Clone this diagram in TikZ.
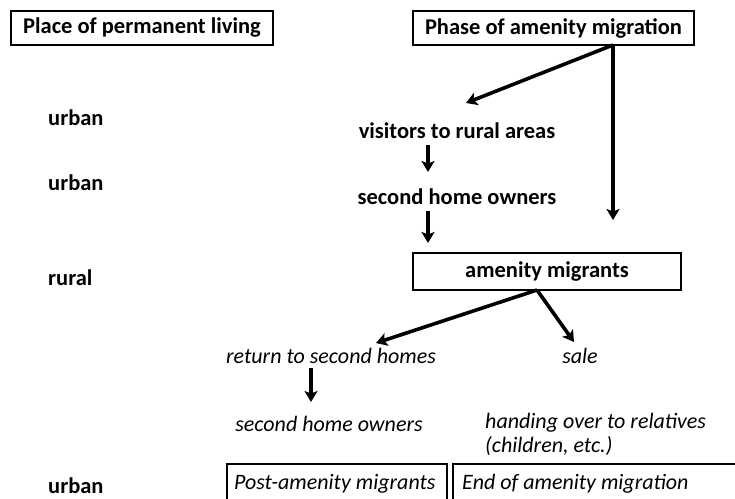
\documentclass[tikz,border=0pt]{standalone}
\usepackage{fontspec}
\setmainfont{Carlito}
\usetikzlibrary{arrows.meta}
\begin{document}
\begin{tikzpicture}[x=1pt,y=-1pt,
  lbl/.style={font=\fontsize{22.5}{24}\selectfont\bfseries, inner sep=0pt},
  ilbl/.style={font=\fontsize{22}{24}\selectfont\itshape, inner sep=0pt},
  hbox/.style={draw, line width=1.8pt, minimum height=34pt, inner sep=0pt},
  arr/.style={line width=3.6pt, -{Stealth[length=11pt,width=13pt,inset=2.5pt]}},
]
\useasboundingbox (0,0) rectangle (735,498);
% header boxes
\node[hbox, lbl, minimum width=262pt] (place) at (142,28) {Place of permanent living};
\node[hbox, lbl, minimum width=281pt] (phase) at (553.5,28) {Phase of amenity migration};
\coordinate (split) at (613,45);
% left column
\node[lbl, anchor=west] (u1) at (48,118) {urban};
\node[lbl, anchor=west] (u2) at (48,183) {urban};
\node[lbl, anchor=west] (r1) at (48,278) {rural};
\node[lbl, anchor=west] (u3) at (48,486) {urban};
% middle
\node[lbl] (visit) at (457,131) {visitors to rural areas};
\node[lbl] (sho) at (457,197) {second home owners};
\node[hbox, lbl, minimum width=268pt, minimum height=37pt] (am) at (547,271.5) {amenity migrants};
\coordinate (amb) at (537,290);
\node[ilbl] (ret) at (331,356) {return to second homes};
\node[ilbl] (sale) at (580,356) {sale};
\node[ilbl] (sho2) at (329,424) {second home owners};
\node[ilbl, anchor=west, align=left] (hand) at (485,434) {handing over to relatives\\(children, etc.)};
% bottom open boxes
\node[ilbl, anchor=west] (post) at (234,484) {Post-amenity migrants};
\node[ilbl, anchor=west] (end) at (462,484) {End of amenity migration};
\draw[line width=1.8pt] (227,502) -- (227,464) -- (447,464) -- (447,502);
\draw[line width=1.8pt] (453,502) -- (453,464) -- (740,464);
% connectors
\draw[arr] (split) -- (466,103);
\draw[arr] (split) -- (613,220);
\draw[arr] (428,145) -- (428,172);
\draw[arr] (428,211) -- (428,243);
\draw[arr] (amb) -- (376,343);
\draw[arr] (amb) -- (574,342);
\draw[arr] (311,368) -- (311,402);
\end{tikzpicture}
\end{document}
